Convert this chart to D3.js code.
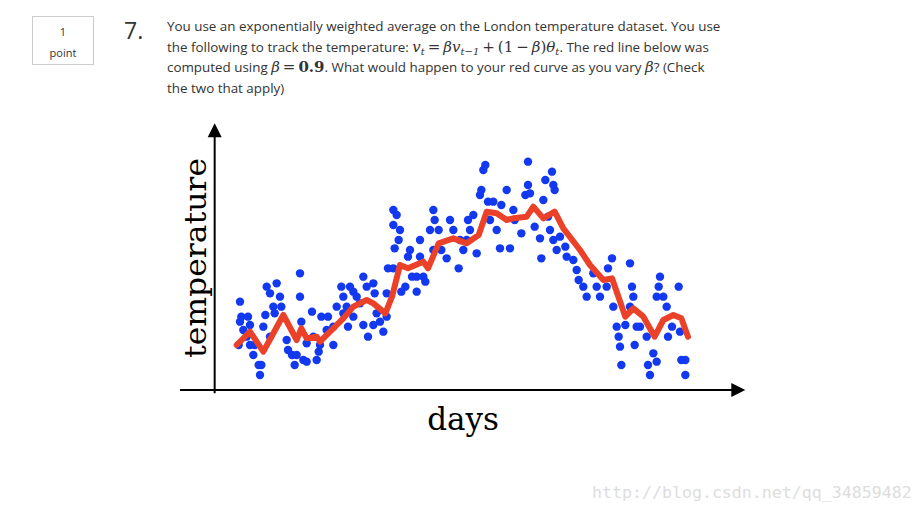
<!DOCTYPE html>
<html><head><meta charset="utf-8">
<script src="https://cdn.jsdelivr.net/npm/d3@7"></script>
<style>
body{margin:0;background:#fff;width:921px;height:513px;position:relative;overflow:hidden;font-family:"Open Sans",sans-serif;color:#333}
.box{position:absolute;left:32px;top:16px;width:62px;height:49px;border:1px solid #ccc;text-align:center;font-size:11px;line-height:21px;padding-top:4px;box-sizing:border-box}
.num{position:absolute;left:124px;top:14px;font-size:23px}
.q{position:absolute;left:167px;top:16px;width:568px;font-size:13.4px;line-height:20.7px}
.m{font-family:"DejaVu Serif",serif;font-style:italic;font-size:15px}
.mb{font-family:"DejaVu Serif",serif;font-weight:bold;font-size:15px}
.mo{font-family:"DejaVu Serif",serif;font-size:15px}
sub{font-size:10px;line-height:0;vertical-align:-3px}
.wm{position:absolute;left:592px;top:483px;font-family:"DejaVu Sans Mono",monospace;font-size:16.6px;color:#ddd}
svg{position:absolute;left:0;top:0}
</style></head><body>
<div class="box">1<br>point</div>
<div class="num">7.</div>
<div class="q">You use an exponentially weighted average on the London temperature dataset. You use the following to track the temperature: <span class="m">v<sub>t</sub></span><span class="mo">&thinsp;=&thinsp;</span><span class="m">βv<sub>t−1</sub></span><span class="mo">&thinsp;+&thinsp;(1&thinsp;−&thinsp;</span><span class="m">β</span><span class="mo">)</span><span class="m">θ<sub>t</sub></span>. The red line below was computed using <span class="m">β</span><span class="mo">&thinsp;=&thinsp;</span><span class="mb">0.9</span>. What would happen to your red curve as you vary <span class="m">β</span>? (Check<br>the two that apply)</div>
<div class="wm">http://blog.csdn.net/qq_34859482</div>
<svg id="chart" width="921" height="513"></svg>
<script>
// observed temperatures (day, temp)
const dots = [
[15,26.5],[16,22],[21,22],[15,20.5],[22.5,19.5],[17.5,18],[20,16],[14,13.5],[22.5,13.5],[25,10.5],[29,7.5],[31,7.5],[30,4.5],[26,13.5],
[35,31],[37.5,29],[42.5,32],[45,28],[46,25],[40,25],[34,22.5],[32.5,19],[37.5,16],[41,23],[50,15],[51,12],[54,10.5],[57.5,10.5],[56,7.5],[60,35],[60,28],[61,20.5],[62.5,9],[65,8.5],[69,23.5],[65,14],[70,16],[74,11.5],[72.5,9],[75,13.5],[76,22],[81,22],[85,13.5],[87.5,25],[91,31],[92.5,28],[97.5,31],[100,29.5],[102.5,28],[107.5,34],[110,31],[115,32],[116,29],[105,26],[107.5,19.5],[111,16],[115,19.5],[117.5,23],[120,20.5],[122.5,17.5],[125,22],[85,19],[80,18],[92.5,23],[95,25],[100,22],[96,19],
[130,54],[132.5,52.5],[130,49.5],[135,48],[134,45],[131,42.5],[126,36.5],[130,36.5],[125,29],[136,29.5],[139,31],[142.5,42],[141,40],[144,34],[147.5,29.5],[150,45],[150,40],[147.5,34],[152.5,34],[154,32.5],[160,54],[161,51],[157.5,48],[164,48],[160,42],[166,42],[170,39.5],[172.5,51],[175,48],[179,36.5],[180,45],[182.5,42],[186,51],[187.5,48],[190,52.5],[192.5,41],[185,45],
[197.5,66],[199,67.5],[196,60],[195,58.5],[201,56.5],[205,56.5],[202.5,51],[207.5,48],[210,42.5],[217.5,42.5],[211,55.5],[215,60],[220,54],[221,51],[226,47],[229,58.5],[231,68.5],[231,61.5],[232.5,59],[236,49],[240,45.5],[241,39.5],[244,63],[242.5,57],[249,65.5],[250,61.5],[251,60],[246,52],[247.5,48],[250,45],[252.5,42],
[255,46],[259,43],[260,40],[265,39],[267.5,36],[269,33],[272.5,31],[275,28],[280,35],[282.5,31],[285,28],[290,31],[291,36.5],[294,39.5],[295,25],[297.5,19],[299,16],[300,13],[301,7.5],[304,19.5],[307.5,38],[309,31],[310,28],[311,13.5],[312.5,19],[315,19],[320,16],[321,7.5],[322.5,4.5],[325,11],[327.5,8.5],[330,34],[329,31],[327.5,28],[332.5,28],[335,25],[336,16],[339,19],[344,31],[345,17.5],[346,9],[349,9],[349,4.5],[307.5,25]
];
// exponentially weighted average (beta = 0.9)
const ewa = [
[12.5,13.5],[22.5,17.5],[32.5,11.5],[47.5,22.5],[57.5,15],[61,18.5],[65,15.5],[72.5,16],[75,14.5],[92.5,21.5],[100,25],[110,27],[115,26],[124,23],[129,28],[135,37.5],[141,36.5],[152.5,38.5],[156,36.5],[164,44],[175,45.5],[185,44],[194,46.5],[200,53.5],[207.5,53],[215,51],[220,51.5],[230,52],[235,55],[242.5,51.5],[251,53.5],[257.5,48.5],[270,42],[277.5,37.5],[287.5,33],[294,33.5],[304,22],[310,24.5],[317.5,22],[326,16],[332.5,21],[340,22.5],[346,21.5],[351,16]
];

const svg = d3.select('#chart');
const x = d3.scaleLinear().domain([0, 360]).range([220, 700]);
const y = d3.scaleLinear().domain([0, 75]).range([390, 140]);

// axes with arrowheads
svg.append('line').attr('x1', x(-30)).attr('x2', x(390)).attr('y1', y(0)).attr('y2', y(0))
  .attr('stroke', '#000').attr('stroke-width', 2);
svg.append('path').attr('d', `M${x(394)},${y(0)}l-14,-7v14z`);
svg.append('line').attr('x1', x(-4)).attr('x2', x(-4)).attr('y1', y(-1)).attr('y2', y(77))
  .attr('stroke', '#000').attr('stroke-width', 2);
svg.append('path').attr('d', `M${x(-4)},${y(80)}l-7,14h14z`);

svg.selectAll('circle').data(dots).join('circle')
  .attr('cx', d => x(d[0])).attr('cy', d => y(d[1])).attr('r', 4.2)
  .attr('fill', '#1238f0');

svg.append('path').datum(ewa)
  .attr('d', d3.line().x(d => x(d[0])).y(d => y(d[1])))
  .attr('fill', 'none').attr('stroke', '#ea4128').attr('stroke-width', 6)
  .attr('stroke-linejoin', 'round').attr('stroke-linecap', 'round');

svg.append('text').attr('transform', `translate(206,258) rotate(-90)`)
  .attr('text-anchor', 'middle').attr('font-family', 'DejaVu Serif, serif').attr('font-size', 29)
  .attr('textLength', 200).attr('lengthAdjust', 'spacingAndGlyphs')
  .text('temperature');
svg.append('text').attr('x', 463).attr('y', 430)
  .attr('text-anchor', 'middle').attr('font-family', 'DejaVu Serif, serif').attr('font-size', 31)
  .text('days');
</script>
</body></html>
